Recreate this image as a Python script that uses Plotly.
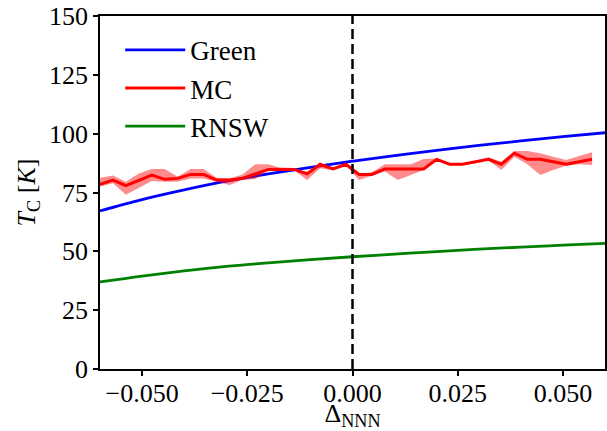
import plotly.graph_objects as go

# Analytic curves
delta_curve = [-0.06, -0.05, -0.04, -0.03, -0.02, -0.01, 0.0, 0.01, 0.02, 0.03, 0.04, 0.05, 0.06]
green_tc = [67.2, 72.0, 76.1, 79.8, 82.9, 85.7, 88.3, 90.7, 92.9, 95.0, 96.9, 98.7, 100.4]
rnsw_tc = [37.0, 39.5, 41.7, 43.6, 45.1, 46.5, 47.7, 48.8, 49.9, 50.9, 51.8, 52.6, 53.4]

# Monte Carlo data
delta_mc = [-0.06, -0.05692, -0.05385, -0.05077, -0.04769, -0.04462, -0.04154, -0.03846,
            -0.03538, -0.03231, -0.02923, -0.02615, -0.02308, -0.02, -0.01692, -0.01385,
            -0.01077, -0.00769, -0.00462, -0.00154, 0.00154, 0.00462, 0.00769, 0.01077,
            0.01385, 0.01692, 0.02, 0.02308, 0.02615, 0.02923, 0.03231, 0.03538, 0.03846,
            0.04154, 0.04462, 0.04769, 0.05077, 0.05385, 0.05692]
mc_tc = [78.5, 80.3, 77.9, 80.3, 82.4, 80.6, 81.0, 82.7, 82.7, 80.3, 80.3, 81.0, 82.9,
         84.8, 84.9, 84.8, 82.9, 87.0, 85.0, 87.0, 82.7, 82.7, 85.0, 85.0, 85.0, 85.0,
         89.1, 87.0, 87.0, 88.1, 89.1, 87.0, 91.7, 89.1, 89.1, 88.1, 87.0, 88.1, 89.1]
mc_upper = [81.3, 82.2, 79.6, 83.1, 85.0, 85.0, 81.7, 85.0, 85.0, 81.3, 81.0, 82.7, 87.0,
            87.0, 85.3, 85.2, 83.9, 87.4, 85.6, 87.4, 83.0, 83.6, 87.0, 87.0, 87.0, 89.2,
            89.5, 87.4, 87.4, 88.5, 90.0, 88.1, 92.6, 92.6, 91.7, 90.2, 88.8, 90.5, 92.1]
mc_lower = [77.6, 78.9, 74.0, 77.0, 79.9, 79.6, 79.6, 81.0, 81.0, 79.6, 78.2, 80.3, 80.7,
            84.3, 84.4, 84.3, 80.3, 85.3, 84.5, 86.5, 80.3, 82.2, 83.9, 80.3, 82.4, 84.6,
            88.8, 86.6, 86.6, 87.7, 88.6, 84.6, 90.2, 87.0, 82.4, 84.6, 86.4, 87.0, 86.7]

vline_x = [0.0, 0.0]
vline_y = [0, 150]

x_ticks = [-0.05, -0.025, 0.0, 0.025, 0.05]
y_ticks = [0, 25, 50, 75, 100, 125, 150]

FONT = "Liberation Serif"

fig = go.Figure()

fig.add_trace(go.Scatter(x=delta_curve, y=green_tc, mode="lines", name="Green",
                         line=dict(color="#0000ff", width=2.8, shape="spline")))
fig.add_trace(go.Scatter(x=delta_mc, y=mc_lower, mode="lines", line=dict(width=0),
                         showlegend=False, hoverinfo="skip"))
fig.add_trace(go.Scatter(x=delta_mc, y=mc_upper, mode="lines", line=dict(width=0),
                         fill="tonexty", fillcolor="rgba(255,0,0,0.45)",
                         showlegend=False, hoverinfo="skip"))
fig.add_trace(go.Scatter(x=delta_mc, y=mc_tc, mode="lines", name="MC",
                         line=dict(color="#ff0000", width=3)))
fig.add_trace(go.Scatter(x=delta_curve, y=rnsw_tc, mode="lines", name="RNSW",
                         line=dict(color="#008000", width=2.8, shape="spline")))
fig.add_trace(go.Scatter(x=vline_x, y=vline_y, mode="lines", showlegend=False,
                         line=dict(color="black", width=2.5, dash="10px,5px")))

axis_common = dict(showline=True, linecolor="black", linewidth=1.5, mirror=True,
                   ticks="outside", ticklen=5, tickwidth=1.5, tickcolor="black",
                   showgrid=False, zeroline=False, automargin=False,
                   tickfont=dict(family=FONT, size=26, color="black"))

fig.update_xaxes(range=[-0.06, 0.06], tickvals=x_ticks, tickformat=".3f",
                 ticklabelstandoff=-5,
                 title=dict(text="Δ<sub>NNN</sub>", font=dict(family=FONT, size=26, color="black"),
                            standoff=20),
                 **axis_common)
fig.update_yaxes(range=[0, 150], tickvals=y_ticks,
                 title=dict(text="<i>T</i><sub>C</sub> [<i>K</i>]",
                            font=dict(family=FONT, size=26, color="black"), standoff=6),
                 **axis_common)

fig.update_layout(
    width=607, height=431,
    margin=dict(l=100, r=2, t=16, b=62),
    paper_bgcolor="white", plot_bgcolor="white",
    font=dict(family=FONT, color="black"),
    showlegend=True,
    legend=dict(x=0.04, y=0.972, xanchor="left", yanchor="top", traceorder="normal",
                bgcolor="rgba(0,0,0,0)", font=dict(family=FONT, size=27, color="black"),
                itemwidth=60),
)

fig.write_html("out.html", config={"displayModeBar": False},
               post_script="document.body.style.margin='0px';")
